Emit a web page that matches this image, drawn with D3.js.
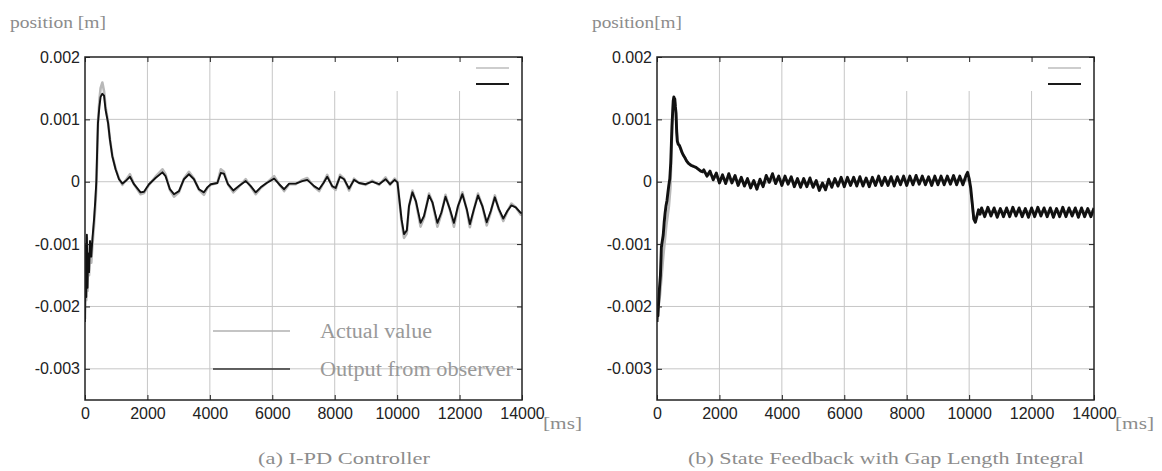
<!DOCTYPE html>
<html lang="en">
<head>
<meta charset="UTF-8">
<title>Position response: I-PD vs state feedback</title>
<script src="https://d3js.org/d3.v7.min.js"></script>
<style>
  body { margin: 0; background: #fff; }
  svg { display: block; }
</style>
</head>
<body>
<div id="chart"></div>
<script>
// axis ticks: time in ms, position values in mm (labels shown in m)
const xTicks = [0, 2000, 4000, 6000, 8000, 10000, 12000, 14000];
const xTickLabels = ["0", "2000", "4000", "6000", "8000", "10000", "12000", "14000"];
const yTicks = [2, 1, 0, -1, -2, -3];
const yTickLabels = ["0.002", "0.001", "0", "-0.001", "-0.002", "-0.003"];
const legendLabels = ["Actual value", "Output from observer"];

// (a) I-PD controller  [ms] / [mm]
const timeA = [0, 20, 40, 60, 80, 100, 130, 160, 200, 240, 290, 330, 363, 390, 415, 460, 500, 555, 610, 660,
  740, 800, 875, 980, 1090, 1200, 1300, 1440, 1570, 1780, 1890, 2050, 2260, 2480, 2580, 2720, 2850, 3010, 3170, 3330,
  3490, 3650, 3810, 3920, 4030, 4240, 4350, 4450, 4580, 4750, 4930, 5150, 5310, 5470, 5630, 5820, 6060, 6220, 6380, 6540,
  6750, 6960, 7120, 7340, 7500, 7640, 7760, 7920, 8030, 8170, 8300, 8460, 8620, 8780, 8990, 9200, 9420, 9630, 9770, 9920,
  10010, 10070, 10140, 10220, 10310, 10380, 10490, 10600, 10750, 10860, 11020, 11130, 11290, 11420, 11550, 11690, 11820, 11950, 12090, 12230,
  12330, 12460, 12590, 12730, 12870, 13000, 13130, 13260, 13400, 13530, 13660, 13800, 13960, 14000];
const actualA = [-2.2, -1.1, -1.9, -0.9, -1.75, -1.2, -1.5, -1.0, -1.3, -1.0, -0.7, -0.4, -0.1, 0.4, 0.95, 1.3, 1.5, 1.59, 1.45, 1.2,
  0.95, 0.68, 0.42, 0.21, 0.05, -0.05, 0.02, 0.12, -0.04, -0.2, -0.18, -0.05, 0.08, 0.2, 0.12, -0.13, -0.24, -0.17, 0.05, 0.16,
  0.05, -0.13, -0.21, -0.1, -0.05, -0.02, 0.2, 0.16, -0.04, -0.17, -0.08, 0.04, -0.08, -0.2, -0.1, -0.02, 0.09, -0.04, -0.15, -0.04,
  -0.04, 0.03, 0.06, -0.08, -0.15, -0.02, 0.11, -0.08, -0.13, 0.11, 0.05, -0.14, 0.05, -0.02, -0.05, 0.02, -0.05, 0.07, -0.05, 0.05,
  0.0, -0.3, -0.63, -0.9, -0.83, -0.4, -0.14, -0.32, -0.72, -0.58, -0.19, -0.33, -0.72, -0.51, -0.21, -0.45, -0.72, -0.4, -0.17, -0.45,
  -0.73, -0.45, -0.19, -0.39, -0.7, -0.49, -0.22, -0.45, -0.63, -0.48, -0.35, -0.41, -0.53, -0.53];
const observerA = [-2.25, -1.0, -1.85, -0.85, -1.7, -1.15, -1.45, -0.95, -1.2, -0.9, -0.6, -0.3, 0.0, 0.5, 0.94, 1.2, 1.36, 1.41, 1.38, 1.15,
  0.94, 0.67, 0.41, 0.2, 0.04, -0.03, 0.01, 0.08, -0.04, -0.17, -0.16, -0.04, 0.06, 0.15, 0.09, -0.12, -0.2, -0.15, 0.04, 0.12,
  0.04, -0.12, -0.17, -0.09, -0.04, -0.02, 0.14, 0.13, -0.04, -0.14, -0.07, 0.01, -0.07, -0.17, -0.09, -0.02, 0.05, -0.04, -0.12, -0.03,
  -0.03, 0.01, 0.03, -0.07, -0.12, -0.02, 0.08, -0.07, -0.1, 0.08, 0.04, -0.11, 0.03, -0.02, -0.04, 0.0, -0.04, 0.04, -0.04, 0.03,
  -0.01, -0.28, -0.6, -0.84, -0.78, -0.39, -0.17, -0.31, -0.66, -0.55, -0.22, -0.33, -0.66, -0.49, -0.24, -0.44, -0.66, -0.39, -0.2, -0.44,
  -0.68, -0.44, -0.22, -0.39, -0.65, -0.47, -0.25, -0.44, -0.59, -0.47, -0.38, -0.41, -0.5, -0.5];

// (b) state feedback with gap length integral  [ms] / [mm]
const actualTimeB = [0, 100, 200, 300, 380, 430, 460, 490, 520, 545, 580, 620, 660, 720, 800, 900, 1000, 1200, 1500, 2000,
  2500, 3000, 3200, 3500, 3800, 4200, 4600, 5000, 5300, 5600, 6000, 7000, 8000, 9000, 9900, 10000, 10100, 10150, 10200, 10300,
  10500, 12000, 14000];
const actualB = [-2.2, -1.8, -1.2, -0.7, -0.4, -0.1, 0.4, 0.9, 1.25, 1.35, 1.25, 0.95, 0.65, 0.57, 0.47, 0.38, 0.3, 0.24, 0.15, 0.05,
  0.03, -0.03, -0.05, -0.01, 0.04, 0.02, -0.02, -0.03, -0.08, -0.02, 0.0, 0.01, 0.02, 0.02, 0.03, 0.03, -0.35, -0.6, -0.62, -0.47,
  -0.48, -0.48, -0.48];
const timeB = [0, 15, 30, 50, 80, 110, 140, 170, 200, 230, 260, 290, 320, 350, 380, 410, 440, 460, 480, 500,
  520, 540, 555, 570, 590, 610, 630, 650, 680, 720, 760, 800, 850, 900, 950, 1000, 1050, 1100, 1150, 1200,
  1250, 1300, 1350, 1400, 1450,
  1500, 1600, 1700, 1800, 1900, 2000,
  2100, 2200, 2300, 2400, 2500, 2600, 2700, 2800, 2900, 3000,
  3100, 3200, 3300, 3400, 3500, 3600, 3700, 3800, 3900, 4000,
  4100, 4200, 4300, 4400, 4500, 4600, 4700, 4800, 4900, 5000,
  5100, 5200, 5300, 5400, 5500, 5600, 5700, 5800, 5900, 6000,
  6100, 6200, 6300, 6400, 6500, 6600, 6700, 6800, 6900, 7000,
  7100, 7200, 7300, 7400, 7500, 7600, 7700, 7800, 7900, 8000,
  8100, 8200, 8300, 8400, 8500, 8600, 8700, 8800, 8900, 9000,
  9100, 9200, 9300, 9400, 9500, 9600, 9700, 9800, 9900,
  9950, 10000, 10050, 10100, 10150, 10200, 10250, 10300, 10350,
  10400, 10500, 10600, 10700, 10800, 10900, 11000, 11100, 11200, 11300,
  11400, 11500, 11600, 11700, 11800, 11900, 12000, 12100, 12200, 12300,
  12400, 12500, 12600, 12700, 12800, 12900, 13000, 13100, 13200, 13300,
  13400, 13500, 13600, 13700, 13800, 13900, 14000];
const observerB = [-2.25, -2.0, -2.15, -1.95, -1.7, -1.5, -1.05, -0.95, -0.85, -0.65, -0.5, -0.38, -0.3, -0.17, -0.05, 0.05, 0.3, 0.6, 0.9, 1.1,
  1.3, 1.36, 1.25, 1.33, 1.2, 1.1, 0.8, 0.65, 0.6, 0.58, 0.53, 0.47, 0.42, 0.38, 0.33, 0.3, 0.28, 0.26, 0.25, 0.24,
  0.23, 0.21, 0.19, 0.17, 0.16,
  0.19, 0.09, 0.17, 0.03, 0.14, -0.02,
  0.11, -0.03, 0.13, -0.02, 0.10, -0.06, 0.07, -0.07, 0.05, -0.10,
  0.02, -0.12, 0.04, -0.08, 0.10, -0.01, 0.13, -0.03, 0.09, -0.06,
  0.09, -0.04, 0.08, -0.08, 0.05, -0.09, 0.05, -0.08, 0.06, -0.09,
  0.02, -0.14, -0.02, -0.13, 0.04, -0.09, 0.05, -0.07, 0.07, -0.08,
  0.07, -0.06, 0.07, -0.07, 0.08, -0.07, 0.06, -0.08, 0.07, -0.06,
  0.09, -0.06, 0.07, -0.06, 0.08, -0.07, 0.08, -0.05, 0.09, -0.06,
  0.09, -0.05, 0.10, -0.04, 0.09, -0.05, 0.08, -0.06, 0.09, -0.05,
  0.09, -0.05, 0.09, -0.04, 0.10, -0.05, 0.09, -0.05, 0.10,
  0.15, 0.05, -0.1, -0.35, -0.6, -0.65, -0.55, -0.45, -0.52,
  -0.42, -0.56, -0.41, -0.55, -0.42, -0.57, -0.43, -0.56, -0.42, -0.56,
  -0.41, -0.55, -0.42, -0.56, -0.43, -0.57, -0.42, -0.56, -0.41, -0.55,
  -0.42, -0.56, -0.42, -0.57, -0.43, -0.56, -0.41, -0.56, -0.42, -0.55,
  -0.42, -0.57, -0.42, -0.56, -0.43, -0.56, -0.42];

const pairs = (ts, vs) => ts.map((t, i) => [t, vs[i]]);

const panels = [
  { left: 85, yLabel: "position [m]", yLabelX: 10, yLabelW: 96,
    caption: "(a) I-PD Controller", capX: 258, capW: 172, obsWidth: 1.9,
    actual: pairs(timeA, actualA), observer: pairs(timeA, observerA), bottomLegend: true },
  { left: 657, yLabel: "position[m]", yLabelX: 592, yLabelW: 90,
    caption: "(b) State Feedback with Gap Length Integral", capX: 688, capW: 396, obsWidth: 2.9,
    actual: pairs(actualTimeB, actualB), observer: pairs(timeB, observerB), bottomLegend: false }
];

const W = 437, plotTop = 57, plotBottom = 400;
const serif = "'Liberation Serif', 'Times New Roman', serif";
const sans = "'Liberation Sans', Arial, sans-serif";
const grey = "#8c8c8c";

const svg = d3.select("#chart").append("svg").attr("width", 1162).attr("height", 471);

panels.forEach((p, k) => {
  const x = d3.scaleLinear().domain([0, 14000]).range([p.left, p.left + W]);
  const y = d3.scaleLinear().domain([-3.5, 2]).range([plotBottom, plotTop]);
  const g = svg.append("g");

  // grid
  g.append("g").selectAll("line").data(xTicks.slice(1, -1)).join("line")
    .attr("x1", d => x(d)).attr("x2", d => x(d)).attr("y1", plotTop).attr("y2", plotBottom)
    .attr("stroke", "#c6c6c6").attr("stroke-width", 1);
  g.append("g").selectAll("line").data(yTicks.slice(1)).join("line")
    .attr("x1", p.left).attr("x2", p.left + W).attr("y1", d => y(d)).attr("y2", d => y(d))
    .attr("stroke", "#c6c6c6").attr("stroke-width", 1);

  // key box (blanks the grid behind it)
  g.append("rect").attr("x", x(7000)).attr("y", plotTop + 1)
    .attr("width", x(14000) - x(7000) - 1).attr("height", 33).attr("fill", "#fff");
  g.append("line").attr("x1", p.left + 391).attr("x2", p.left + 424).attr("y1", 68).attr("y2", 68)
    .attr("stroke", "#bdbdbd").attr("stroke-width", 1.5);
  g.append("line").attr("x1", p.left + 391).attr("x2", p.left + 424).attr("y1", 84).attr("y2", 84)
    .attr("stroke", "#1a1a1a").attr("stroke-width", 2);

  // curves
  const clipId = "clip" + k;
  svg.append("clipPath").attr("id", clipId).append("rect")
    .attr("x", p.left).attr("y", plotTop).attr("width", W).attr("height", plotBottom - plotTop);
  const line = d3.line().x(d => x(d[0])).y(d => y(d[1]));
  g.append("path").datum(p.actual).attr("clip-path", `url(#${clipId})`)
    .attr("d", line).attr("fill", "none").attr("stroke", "#b8b8b8")
    .attr("stroke-width", 2.6).attr("stroke-linejoin", "round");
  g.append("path").datum(p.observer).attr("clip-path", `url(#${clipId})`)
    .attr("d", line).attr("fill", "none").attr("stroke", "#111")
    .attr("stroke-width", p.obsWidth).attr("stroke-linejoin", "round");

  // frame
  g.append("rect").attr("x", p.left).attr("y", plotTop).attr("width", W).attr("height", plotBottom - plotTop)
    .attr("fill", "none").attr("stroke", "#222").attr("stroke-width", 1.5);

  const style = s => {
    s.select(".domain").remove();
    s.attr("font-family", sans).attr("font-size", 16);
    s.selectAll("line").attr("stroke", "#222");
    s.selectAll("text").attr("fill", "#222");
  };
  g.append("g").attr("transform", `translate(0,${plotBottom})`)
    .call(d3.axisBottom(x).tickValues(xTicks).tickFormat((d, i) => xTickLabels[i]).tickSize(-5).tickPadding(8))
    .call(style);
  g.append("g").attr("transform", `translate(${p.left},0)`)
    .call(d3.axisLeft(y).tickValues(yTicks).tickFormat((d, i) => yTickLabels[i]).tickSize(-5).tickPadding(5))
    .call(style);
  g.append("g").attr("transform", `translate(0,${plotTop})`)
    .call(d3.axisTop(x).tickValues(xTicks).tickFormat("").tickSize(-5))
    .call(style);
  g.append("g").attr("transform", `translate(${p.left + W},0)`)
    .call(d3.axisRight(y).tickValues(yTicks).tickFormat("").tickSize(-5))
    .call(style);

  // labels
  g.append("text").attr("x", p.yLabelX).attr("y", 28).text(p.yLabel)
    .attr("font-family", serif).attr("font-size", 17).attr("fill", grey)
    .attr("textLength", p.yLabelW).attr("lengthAdjust", "spacingAndGlyphs");
  g.append("text").attr("x", p.left + W + 21).attr("y", 429).text("[ms]")
    .attr("font-family", serif).attr("font-size", 17).attr("fill", grey)
    .attr("textLength", 39).attr("lengthAdjust", "spacingAndGlyphs");
  g.append("text").attr("x", p.capX).attr("y", 464).text(p.caption)
    .attr("font-family", serif).attr("font-size", 17).attr("fill", grey)
    .attr("textLength", p.capW).attr("lengthAdjust", "spacingAndGlyphs");

  if (p.bottomLegend) {
    const ly = [331, 369];
    const lw = [112, 193];
    const lc = ["#b0b0b0", "#333"];
    legendLabels.forEach((lab, i) => {
      g.append("line").attr("x1", p.left + 128).attr("x2", p.left + 205)
        .attr("y1", ly[i]).attr("y2", ly[i]).attr("stroke", lc[i]).attr("stroke-width", 1.3);
      g.append("text").attr("x", p.left + 235).attr("y", ly[i] + 7).text(lab)
        .attr("font-family", serif).attr("font-size", 20).attr("fill", "#999")
        .attr("textLength", lw[i]).attr("lengthAdjust", "spacingAndGlyphs");
    });
  }
});
</script>
</body>
</html>
